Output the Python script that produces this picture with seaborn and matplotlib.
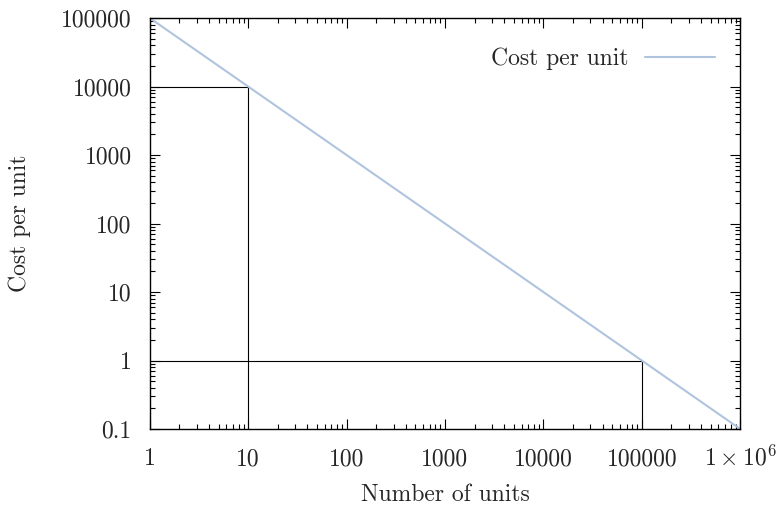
import matplotlib
matplotlib.use('Agg')
import matplotlib.pyplot as plt
import matplotlib.ticker as mticker
import seaborn as sns
import numpy as np
import pandas as pd

# data
units = [1, 10, 100, 1000, 10000, 100000, 1000000]
cost = [100000, 10000, 1000, 100, 10, 1, 0.1]
guide_x = [10, 100000]
guide_y = [10000, 1]
x_ticks = [1, 10, 100, 1000, 10000, 100000, 1000000]
x_labels = ['1', '10', '100', '1000', '10000', '100000', r'$1\times10^6$']
y_ticks = [0.1, 1, 10, 100, 1000, 10000, 100000]
y_labels = ['0.1', '1', '10', '100', '1000', '10000', '100000']

sns.set_theme(style="ticks")
plt.rcParams['font.family'] = 'serif'
plt.rcParams['font.serif'] = ['cmr10', 'DejaVu Serif']
plt.rcParams['mathtext.fontset'] = 'cm'
plt.rcParams['axes.formatter.use_mathtext'] = True

df = pd.DataFrame({'units': units, 'cost': cost})

fig = plt.figure(figsize=(7.8, 5.08), dpi=100)
ax = fig.add_axes([0.192, 0.1555, 0.757, 0.809])

# guide lines
for gx, gy in zip(guide_x, guide_y):
    ax.plot([units[0], gx], [gy, gy], color='black', lw=0.8)
    ax.plot([gx, gx], [cost[-1], gy], color='black', lw=0.8)

sns.lineplot(data=df, x='units', y='cost', ax=ax, color='#b0c4de', lw=1.5,
             label='Cost per unit')

ax.set_xscale('log')
ax.set_yscale('log')
ax.set_xlim(units[0], units[-1])
ax.set_ylim(cost[-1], cost[0])
ax.xaxis.set_major_locator(mticker.FixedLocator(x_ticks))
ax.xaxis.set_major_formatter(mticker.FixedFormatter(x_labels))
ax.yaxis.set_major_locator(mticker.FixedLocator(y_ticks))
ax.yaxis.set_major_formatter(mticker.FixedFormatter(y_labels))
ax.xaxis.set_minor_locator(mticker.LogLocator(base=10, subs=np.arange(2, 10), numticks=20))
ax.yaxis.set_minor_locator(mticker.LogLocator(base=10, subs=np.arange(2, 10), numticks=20))
ax.xaxis.set_minor_formatter(mticker.NullFormatter())
ax.yaxis.set_minor_formatter(mticker.NullFormatter())

ax.tick_params(which='both', direction='in', top=True, right=True, color='black', width=0.8)
ax.tick_params(which='major', length=7, labelsize=17)
ax.tick_params(axis='y', which='major', pad=13)
ax.tick_params(axis='x', which='major', pad=26)
for lab in ax.get_xticklabels():
    lab.set_verticalalignment('baseline')
ax.tick_params(which='minor', length=3.5)
for s in ax.spines.values():
    s.set_color('black')
    s.set_linewidth(1.0)

ax.set_xlabel('Number of units', fontsize=17, labelpad=10)
ax.set_ylabel('Cost per unit', fontsize=17, labelpad=22)

leg = ax.legend(loc='upper right', frameon=False, markerfirst=False, fontsize=17,
                handlelength=3.0, handletextpad=0.7, borderaxespad=0.6,
                bbox_to_anchor=(0.998, 0.985))

fig.savefig('out.png', dpi=100)
